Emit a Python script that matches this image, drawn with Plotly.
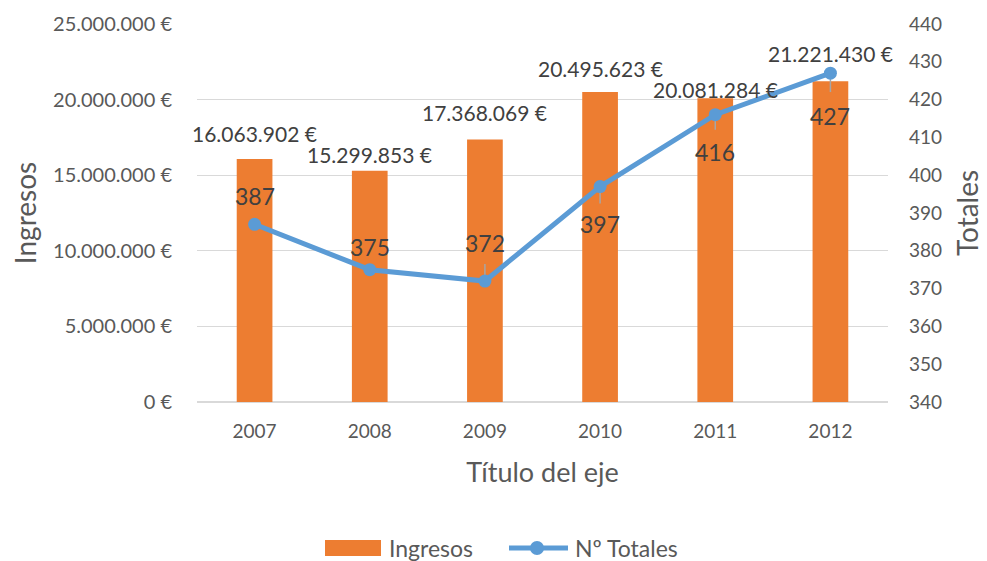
import plotly.graph_objects as go

years = [2007, 2008, 2009, 2010, 2011, 2012]
ingresos = [16063902, 15299853, 17368069, 20495623, 20081284, 21221430]
totales = [387, 375, 372, 397, 416, 427]
ingresos_labels = ["16.063.902 €", "15.299.853 €", "17.368.069 €", "20.495.623 €", "20.081.284 €", "21.221.430 €"]
left_ticks = [0, 5000000, 10000000, 15000000, 20000000, 25000000]
left_tick_text = ["0 €", "5.000.000 €", "10.000.000 €", "15.000.000 €", "20.000.000 €", "25.000.000 €"]

# label offsets (pixels), as placed in the original
bar_label_shift = [26, 16, 27, 24, 9, 28]
line_label_shift = [28, 23, 38, -37, -37, -43]
leader_plus = [0, 0, 4.5, 0, 0, 0]
leader_minus = [0, 0, 0, 4.5, 4, 5]

FONT = "Lato, Carlito, Calibri, sans-serif"
TXT = "#404040"
TICK = "#595959"
ORANGE = "#ED7D31"
BLUE = "#5B9BD5"

W, H = 979, 553
L, T, PW, PH = 189, 16, 691, 378
R, B = W - L - PW, H - T - PH


def px(xp):
    return (xp - L) / PW


def py(yp):
    return 1 - (yp - T) / PH


fig = go.Figure()
fig.add_trace(go.Bar(
    x=years, y=ingresos, name="Ingresos", width=0.31,
    marker=dict(color=ORANGE, line=dict(width=0)),
    yaxis="y", hoverinfo="skip", showlegend=False,
))
fig.add_trace(go.Scatter(
    x=years, y=totales, name="Nº Totales", mode="lines+markers",
    line=dict(color=BLUE, width=5), marker=dict(color=BLUE, size=13),
    error_y=dict(type="data", symmetric=False, array=leader_plus, arrayminus=leader_minus,
                 color="#A6A6A6", thickness=1.5, width=0),
    yaxis="y2", hoverinfo="skip", showlegend=False,
))

annotations = []
for yr, v, lab, s in zip(years, ingresos, ingresos_labels, bar_label_shift):
    annotations.append(dict(x=yr, y=v, xref="x", yref="y", text=lab, showarrow=False,
                            yanchor="middle", yshift=s, font=dict(family=FONT, size=21, color=TXT)))
for yr, v, s in zip(years, totales, line_label_shift):
    annotations.append(dict(x=yr, y=v, xref="x", yref="y2", text=str(v), showarrow=False,
                            yanchor="middle", yshift=s, font=dict(family=FONT, size=23, color=TXT)))

# custom legend (figure pixel coords)
leg_y = 540
shapes = [
    dict(type="rect", xref="paper", yref="paper", x0=px(317), x1=px(373), y0=py(leg_y - 8), y1=py(leg_y + 8),
         fillcolor=ORANGE, line=dict(width=0), layer="above"),
    dict(type="line", xref="paper", yref="paper", x0=px(501), x1=px(560), y0=py(leg_y), y1=py(leg_y),
         line=dict(color=BLUE, width=5), layer="above"),
    dict(type="circle", xref="paper", yref="paper", x0=px(522), x1=px(536), y0=py(leg_y - 7), y1=py(leg_y + 7),
         fillcolor=BLUE, line=dict(width=0), layer="above"),
]
annotations.append(dict(x=px(379), y=py(leg_y), xref="paper", yref="paper", text="Ingresos", showarrow=False,
                        xanchor="left", yanchor="middle", font=dict(family=FONT, size=23, color=TICK)))
annotations.append(dict(x=px(565), y=py(leg_y), xref="paper", yref="paper", text="Nº Totales", showarrow=False,
                        xanchor="left", yanchor="middle", font=dict(family=FONT, size=23, color=TICK)))

fig.update_layout(
    width=W, height=H,
    margin=dict(l=L, r=R, t=T, b=B, autoexpand=False),
    paper_bgcolor="white", plot_bgcolor="white",
    font=dict(family=FONT, color=TICK, size=18),
    showlegend=False,
    xaxis=dict(type="linear", range=[2006.5, 2012.5], tickvals=years, ticktext=[str(y) for y in years],
               showgrid=False, showline=False, zeroline=False, ticks="", ticklabelstandoff=16,
               automargin=False,
               tickfont=dict(family=FONT, size=19, color=TICK),
               title=dict(text="Título del eje", font=dict(family=FONT, size=27, color=TICK), standoff=22)),
    yaxis=dict(range=[0, 25000000], tickvals=left_ticks, ticktext=left_tick_text,
               showgrid=True, gridcolor="#D9D9D9", gridwidth=1, zeroline=True, zerolinecolor="#D9D9D9",
               showline=False, ticks="", ticklabelstandoff=24, automargin=False,
               tickfont=dict(family=FONT, size=20, color=TICK),
               title=dict(text="Ingresos", font=dict(family=FONT, size=28, color=TICK), standoff=8)),
    yaxis2=dict(range=[340, 440], dtick=10, tick0=340, overlaying="y", side="right",
                showgrid=False, zeroline=False, showline=False, ticks="", ticklabelstandoff=20,
                automargin=False,
                tickfont=dict(family=FONT, size=19, color=TICK),
                title=dict(text="Totales", font=dict(family=FONT, size=28, color=TICK), standoff=17)),
    annotations=annotations,
    shapes=shapes,
)

fig.write_html("out.html")
